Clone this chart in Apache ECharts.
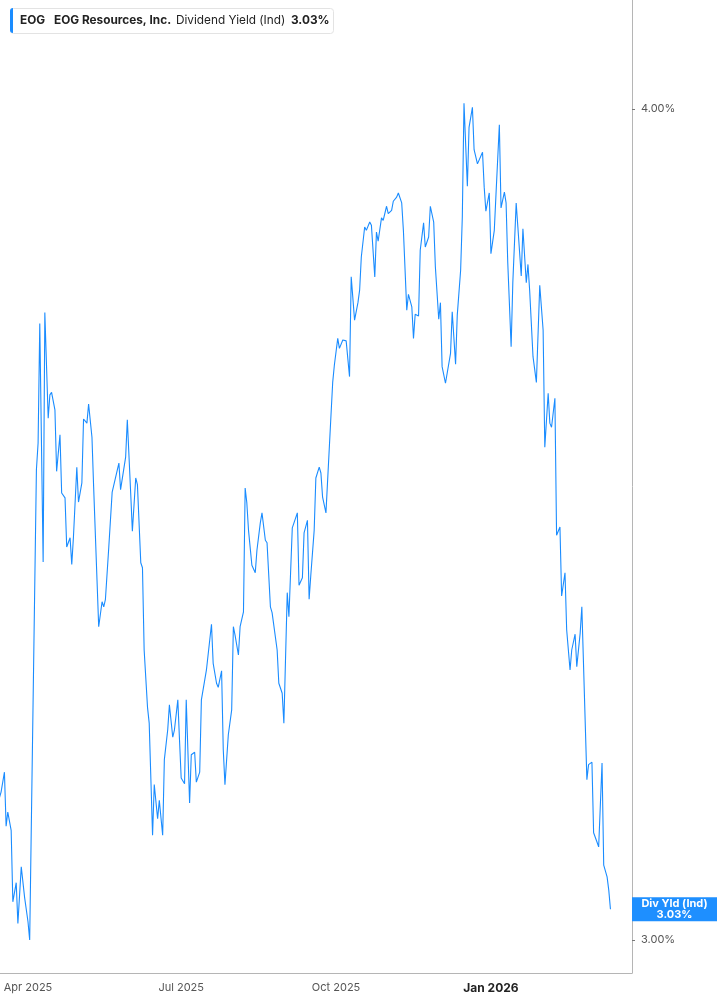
<!DOCTYPE html>
<html>
<head>
<meta charset="utf-8">
<title>EOG Dividend Yield</title>
<script src="https://cdn.jsdelivr.net/npm/echarts@6.0.0/dist/echarts.min.js"></script>
<style>
  html, body { margin: 0; padding: 0; background: #fff; }
  #chart { width: 717px; height: 1005px; }
</style>
</head>
<body>
<div id="chart"></div>
<script>
// values
const dates = [
  '2025-03-15','2025-03-16','2025-03-18','2025-03-19','2025-03-20','2025-03-22','2025-03-23','2025-03-25','2025-03-26','2025-03-28',
  '2025-03-29','2025-03-30','2025-04-01','2025-04-02','2025-04-06','2025-04-07','2025-04-08','2025-04-10','2025-04-11','2025-04-13',
  '2025-04-14','2025-04-15','2025-04-17','2025-04-18','2025-04-20','2025-04-21','2025-04-23','2025-04-24','2025-04-26','2025-04-27',
  '2025-04-28','2025-04-30','2025-05-01','2025-05-03','2025-05-04','2025-05-06','2025-05-07','2025-05-09','2025-05-10','2025-05-12',
  '2025-05-13','2025-05-15','2025-05-16','2025-05-17','2025-05-19','2025-05-21','2025-05-25','2025-05-26','2025-05-29','2025-05-30',
  '2025-06-01','2025-06-02','2025-06-04','2025-06-05','2025-06-07','2025-06-08','2025-06-09','2025-06-11','2025-06-12','2025-06-14',
  '2025-06-15','2025-06-17','2025-06-18','2025-06-20','2025-06-21','2025-06-23','2025-06-24','2025-06-26','2025-06-27','2025-06-29',
  '2025-06-30','2025-07-01','2025-07-03','2025-07-04','2025-07-06','2025-07-07','2025-07-09','2025-07-10','2025-07-12','2025-07-13',
  '2025-07-15','2025-07-16','2025-07-19','2025-07-20','2025-07-22','2025-07-23','2025-07-25','2025-07-26','2025-07-27','2025-07-29',
  '2025-07-31','2025-08-01','2025-08-02','2025-08-04','2025-08-05','2025-08-07','2025-08-08','2025-08-09','2025-08-10','2025-08-12',
  '2025-08-14','2025-08-15','2025-08-17','2025-08-18','2025-08-20','2025-08-21','2025-08-23','2025-08-24','2025-08-25','2025-08-27',
  '2025-08-28','2025-08-30','2025-08-31','2025-09-02','2025-09-03','2025-09-05','2025-09-06','2025-09-08','2025-09-09','2025-09-11',
  '2025-09-12','2025-09-14','2025-09-15','2025-09-16','2025-09-18','2025-09-19','2025-09-21','2025-09-22','2025-09-23','2025-09-25',
  '2025-09-26','2025-09-28','2025-09-29','2025-09-30','2025-10-02','2025-10-03','2025-10-05','2025-10-06','2025-10-07','2025-10-09',
  '2025-10-10','2025-10-12','2025-10-14','2025-10-15','2025-10-16','2025-10-18','2025-10-19','2025-10-21','2025-10-22','2025-10-24',
  '2025-10-25','2025-10-26','2025-10-28','2025-10-29','2025-10-31','2025-11-01','2025-11-03','2025-11-04','2025-11-06','2025-11-07',
  '2025-11-09','2025-11-10','2025-11-12','2025-11-13','2025-11-15','2025-11-16','2025-11-17','2025-11-19','2025-11-20','2025-11-22',
  '2025-11-23','2025-11-25','2025-11-26','2025-11-28','2025-11-29','2025-12-01','2025-12-02','2025-12-03','2025-12-05','2025-12-06',
  '2025-12-08','2025-12-09','2025-12-11','2025-12-12','2025-12-14','2025-12-15','2025-12-16','2025-12-18','2025-12-19','2025-12-21',
  '2025-12-22','2025-12-24','2025-12-25','2025-12-27','2025-12-28','2025-12-29','2025-12-31','2026-01-01','2026-01-03','2026-01-04',
  '2026-01-06','2026-01-07','2026-01-09','2026-01-10','2026-01-11','2026-01-13','2026-01-14','2026-01-16','2026-01-17','2026-01-19',
  '2026-01-20','2026-01-22','2026-01-23','2026-01-24','2026-01-26','2026-01-28','2026-01-29','2026-01-30','2026-02-01','2026-02-02',
  '2026-02-04','2026-02-05','2026-02-06','2026-02-08','2026-02-09','2026-02-11','2026-02-12','2026-02-14','2026-02-15','2026-02-17',
  '2026-02-18','2026-02-20','2026-02-21','2026-02-23','2026-02-24','2026-02-27','2026-02-28','2026-03-02','2026-03-03','2026-03-05',
  '2026-03-06','2026-03-08','2026-03-09','2026-03-11','2026-03-12','2026-03-13'
];

const yields = [
  3.171, 3.178, 3.202, 3.137, 3.154, 3.132, 3.046, 3.069, 3.020, 3.088,
  3.090, 3.051, 3.022, 3.000, 3.566, 3.598, 3.742, 3.455, 3.755, 3.628,
  3.656, 3.659, 3.638, 3.564, 3.608, 3.538, 3.532, 3.473, 3.484, 3.452,
  3.485, 3.569, 3.527, 3.550, 3.627, 3.622, 3.645, 3.605, 3.545, 3.433,
  3.377, 3.407, 3.401, 3.410, 3.473, 3.539, 3.574, 3.542, 3.581, 3.626,
  3.538, 3.492, 3.556, 3.548, 3.454, 3.448, 3.349, 3.280, 3.261, 3.126,
  3.187, 3.146, 3.168, 3.126, 3.217, 3.253, 3.283, 3.244, 3.253, 3.289,
  3.241, 3.195, 3.188, 3.289, 3.165, 3.223, 3.226, 3.190, 3.202, 3.289,
  3.313, 3.325, 3.380, 3.333, 3.309, 3.304, 3.324, 3.229, 3.187, 3.247,
  3.277, 3.377, 3.367, 3.343, 3.377, 3.395, 3.544, 3.526, 3.493, 3.451,
  3.442, 3.469, 3.502, 3.514, 3.481, 3.478, 3.401, 3.394, 3.396, 3.349,
  3.309, 3.297, 3.261, 3.418, 3.389, 3.496, 3.502, 3.514, 3.427, 3.436,
  3.490, 3.505, 3.410, 3.439, 3.493, 3.556, 3.569, 3.562, 3.533, 3.514,
  3.514, 3.632, 3.671, 3.692, 3.724, 3.712, 3.722, 3.722, 3.721, 3.678,
  3.798, 3.746, 3.767, 3.782, 3.822, 3.858, 3.854, 3.864, 3.860, 3.798,
  3.852, 3.841, 3.869, 3.866, 3.883, 3.874, 3.878, 3.889, 3.894, 3.899,
  3.887, 3.854, 3.758, 3.777, 3.762, 3.724, 3.753, 3.751, 3.830, 3.863,
  3.834, 3.846, 3.883, 3.864, 3.810, 3.747, 3.767, 3.690, 3.670, 3.669,
  3.706, 3.756, 3.693, 3.752, 3.806, 3.870, 4.007, 3.907, 3.978, 4.002,
  3.951, 3.934, 3.936, 3.948, 3.906, 3.877, 3.899, 3.826, 3.854, 3.897,
  3.981, 3.881, 3.900, 3.887, 3.815, 3.714, 3.791, 3.887, 3.858, 3.799,
  3.856, 3.791, 3.813, 3.782, 3.702, 3.671, 3.670, 3.788, 3.734, 3.593,
  3.658, 3.622, 3.617, 3.652, 3.487, 3.497, 3.414, 3.442, 3.373, 3.325,
  3.349, 3.368, 3.329, 3.369, 3.401, 3.193, 3.211, 3.214, 3.129, 3.118,
  3.112, 3.213, 3.090, 3.076, 3.060, 3.037
];

const yTicks = [3, 4];
const xTickDates = ['2025-04-01', '2025-07-01', '2025-10-01', '2026-01-01'];
const xTickLabels = ['Apr 2025', 'Jul 2025', 'Oct 2025', 'Jan 2026'];

const ticker = 'EOG';
const company = 'EOG Resources, Inc.';
const metric = 'Dividend Yield (Ind)';
const endTag = 'Div Yld (Ind)';

const FONT = 'Inter, "Noto Sans", sans-serif';
const BLUE = '#1a8cff';
const DAY = 86400000;
const toTime = s => echarts.number.parseDate(s).getTime();

const last = yields[yields.length - 1];
// the quote shows the yield cut to two decimals
const lastText = (Math.floor(last * 100) / 100).toFixed(2) + '%';
const xTicks = xTickDates.map(toTime);
const anchor = toTime('2025-04-01');

const chart = echarts.init(document.getElementById('chart'), null, { renderer: 'canvas' });

chart.setOption({
  animation: false,
  backgroundColor: '#fff',
  textStyle: { fontFamily: FONT },
  grid: { left: 0, right: 85, top: 0, bottom: 32, containLabel: false, outerBoundsMode: 'none' },
  xAxis: {
    // timestamps on a value axis so the month labels can sit on exact dates
    type: 'value',
    min: anchor - 16.63 * DAY,
    max: anchor + 358.8 * DAY,
    splitLine: { show: false },
    axisLine: { show: true, lineStyle: { color: '#b5b5b5', width: 1 } },
    axisTick: { show: false },
    axisLabel: {
      customValues: xTicks,
      margin: 9,
      color: '#555',
      fontSize: 11,
      fontFamily: FONT,
      formatter: v => {
        const i = xTicks.indexOf(v);
        const t = i >= 0 ? xTickLabels[i] : '';
        return t.startsWith('Jan') ? '{b|' + t + '}' : t;
      },
      rich: { b: { fontWeight: 'bold', fontSize: 12, color: '#222', fontFamily: FONT } }
    }
  },
  yAxis: [
    {
      type: 'value',
      position: 'right',
      min: 2.9603,
      max: 4.1312,
      splitLine: { show: false },
      axisLine: { show: true, lineStyle: { color: '#b5b5b5', width: 1 } },
      axisTick: { show: true, customValues: yTicks, length: 3, lineStyle: { color: '#777' } },
      axisLabel: {
        customValues: yTicks,
        margin: 9,
        color: '#555',
        fontSize: 11,
        fontFamily: FONT,
        formatter: v => v.toFixed(2) + '%'
      }
    },
    {
      type: 'value',
      position: 'right',
      min: 2.9603,
      max: 4.1312,
      splitLine: { show: false },
      axisLine: { show: false },
      axisTick: { show: false },
      axisLabel: {
        customValues: [last],
        margin: 0,
        backgroundColor: '#1e8fff',
        padding: [1, 0, 1, 0],
        formatter: () => '{a|' + endTag + '}\n{a|' + lastText + '}',
        rich: {
          a: { width: 85, align: 'center', color: '#fff', fontWeight: 'bold', fontSize: 11, lineHeight: 11, fontFamily: FONT }
        }
      }
    }
  ],
  series: [{
    type: 'line',
    yAxisIndex: 0,
    showSymbol: false,
    symbol: 'none',
    lineStyle: { color: BLUE, width: 1.1 },
    data: dates.map((d, i) => [toTime(d), yields[i]])
  }],
  graphic: [
    { type: 'rect', left: 10, top: 8, z: 10,
      shape: { width: 323, height: 25, r: 3 },
      style: { fill: '#fff', stroke: '#e3e3e3', lineWidth: 1 } },
    { type: 'rect', left: 10, top: 8, z: 11,
      shape: { width: 3, height: 25, r: [3, 0, 0, 3] },
      style: { fill: BLUE } },
    { type: 'text', left: 20, top: 14, z: 12,
      style: { text: ticker, font: 'bold 11.8px ' + FONT, fill: '#222' } },
    { type: 'text', left: 54, top: 14, z: 12,
      style: { text: company, font: 'bold 11.8px ' + FONT, fill: '#222' } },
    { type: 'text', left: 176, top: 14, z: 12,
      style: { text: metric, font: '11.8px ' + FONT, fill: '#222' } },
    { type: 'text', left: 291, top: 14, z: 12,
      style: { text: lastText, font: 'bold 11.8px ' + FONT, fill: '#222' } }
  ]
});
</script>
</body>
</html>
